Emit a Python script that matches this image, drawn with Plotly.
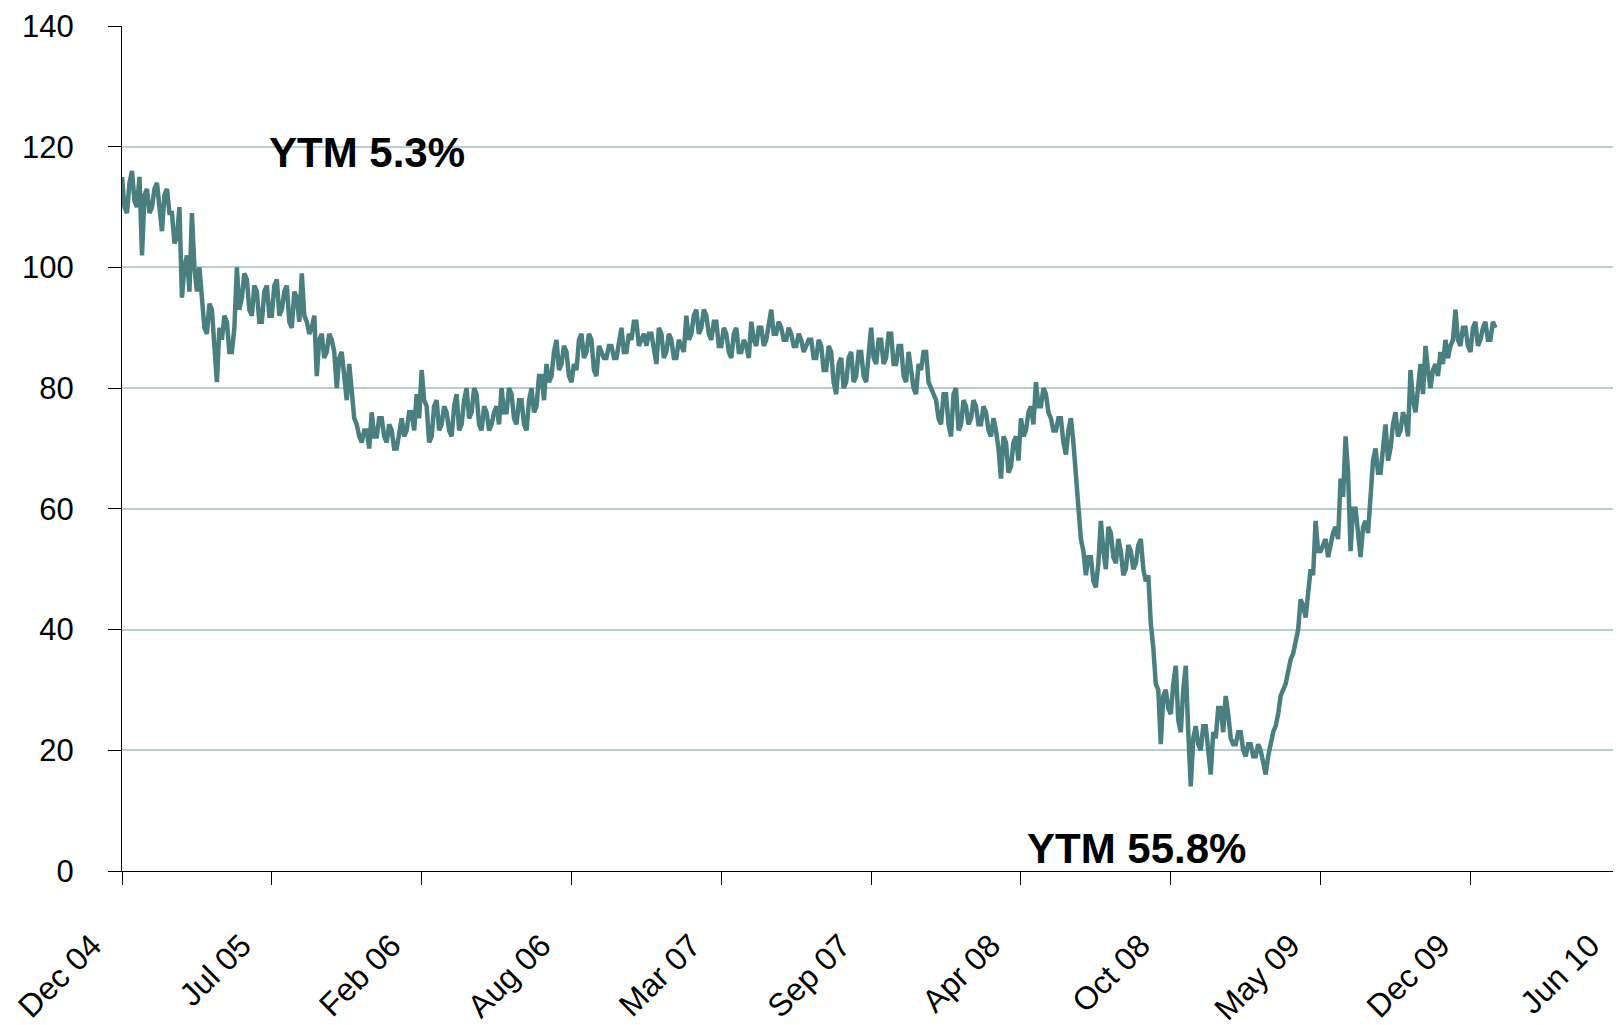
import pandas as pd
import plotly.graph_objects as go

# ---- data ----
start_date = "2004-12-31"
# price read at each ~6.7-day step
price = [
    115, 109, 116, 110, 102, 113, 110, 114, 106, 113,
    109, 105, 95, 102, 109, 96, 95, 89, 93, 81,
    88, 91, 86, 100, 95, 98, 92, 96, 91, 97,
    92, 98, 93, 97, 90, 95, 99, 91, 90, 82,
    89, 86, 88, 80, 86, 78, 79, 74, 71, 73,
    76, 72, 75, 71, 73, 70, 75, 73, 76, 79,
    83, 77, 72, 78, 74, 76, 72, 79, 74, 80,
    76, 79, 73, 76, 74, 77, 80, 76, 79, 74,
    78, 73, 80, 77, 82, 84, 82, 88, 84, 86,
    81, 83, 89, 86, 88, 82, 86, 85, 87, 85,
    90, 86, 88, 91, 88, 87, 89, 84, 89, 86,
    88, 85, 87, 92, 89, 93, 90, 92, 88, 91,
    87, 89, 85, 90, 86, 87, 91, 87, 90, 88,
    93, 89, 90, 88, 89, 87, 88, 87, 88, 85,
    87, 83, 86, 79, 85, 81, 86, 82, 86, 81,
    90, 84, 88, 85, 89, 84, 87, 81, 83, 79,
    83, 86, 80, 78, 74, 79, 72, 80, 74, 77,
    75, 77, 74, 76, 72, 73, 65, 71, 67, 72,
    75, 73, 77, 81, 77, 79, 75, 73, 75, 69,
    75, 66, 55, 49, 52, 47, 58, 50, 56, 51,
    53, 50, 53, 51, 55, 48, 41, 31, 21, 30,
    26, 34, 23, 34, 14, 24, 20, 24, 16, 22,
    27, 29, 22, 21, 23, 19, 21, 19, 20, 16,
    21, 24, 29, 31, 35, 38, 45, 42, 50, 58,
    53, 55, 54, 57, 65, 72, 53, 60, 52, 58,
    62, 70, 66, 74, 70, 76, 73, 75, 83, 76,
    84, 87, 80, 84, 86, 88, 87, 93, 87, 90,
    86, 91, 88, 91, 88, 90,
]
# price read half-way between the steps above
price_mid = [
    110, 114, 111, 115, 112, 109, 113, 110, 112, 109,
    104, 110, 100, 96, 100, 100, 90, 94, 88, 90,
    92, 86, 90, 93, 99, 93, 97, 91, 96, 92,
    97, 92, 96, 91, 96, 91, 92, 89, 92, 88,
    85, 89, 86, 85, 82, 84, 75, 72, 73, 70,
    72, 75, 72, 74, 70, 73, 72, 76, 73, 75,
    78, 71, 77, 73, 77, 73, 77, 73, 78, 75,
    80, 74, 77, 73, 76, 74, 76, 80, 75, 78,
    74, 78, 76, 82, 78, 81, 86, 83, 87, 82,
    84, 88, 85, 89, 83, 87, 85, 87, 85, 88,
    86, 89, 91, 87, 89, 89, 86, 90, 85, 89,
    85, 88, 86, 88, 92, 89, 93, 89, 91, 87,
    90, 86, 89, 86, 88, 85, 88, 90, 87, 91,
    89, 91, 88, 90, 87, 89, 86, 88, 85, 88,
    83, 87, 81, 84, 80, 85, 81, 86, 82, 85,
    85, 88, 84, 89, 84, 87, 82, 86, 80, 84,
    86, 81, 79, 75, 79, 74, 79, 73, 78, 74,
    78, 74, 77, 73, 75, 70, 72, 66, 71, 68,
    72, 76, 74, 77, 80, 76, 73, 75, 71, 73,
    71, 62, 53, 52, 48, 51, 53, 57, 52, 55,
    49, 54, 50, 54, 50, 49, 37, 30, 29, 27,
    31, 25, 30, 23, 22, 21, 24, 20, 23, 27,
    23, 26, 21, 23, 20, 21, 19, 21, 18, 19,
    23, 26, 30, 33, 36, 40, 44, 46, 49, 53,
    54, 52, 56, 55, 62, 66, 60, 55, 57, 56,
    68, 66, 70, 68, 74, 72, 76, 72, 78, 80,
    79, 83, 83, 82, 84, 85, 88, 88, 90, 87,
    90, 87, 90, 88, 91, 88,
]
tick_labels = ["Dec 04", "Jul 05", "Feb 06", "Aug 06", "Mar 07", "Sep 07",
               "Apr 08", "Oct 08", "May 09", "Dec 09", "Jun 10"]
y_ticks = [0, 20, 40, 60, 80, 100, 120, 140]
grid_values = [20, 40, 60, 80, 100, 120]
notes = [("YTM 5.3%", "2005-07-12", 119.1), ("YTM 55.8%", "2008-04-20", 3.8)]

series = []
for a, b in zip(price, price_mid):
    series += [a, b]
series = series[:-1]
dates = pd.date_range(start_date, periods=len(series), freq="80h")
tick_dates = pd.date_range(start_date, periods=len(tick_labels), freq="200D")

FONT = "Arial, Liberation Sans, sans-serif"

fig = go.Figure()
fig.add_trace(go.Scatter(
    x=dates, y=series, mode="lines",
    line=dict(color="#4a7f7f", width=4.5),
    showlegend=False, hoverinfo="skip",
))

for text, xd, yv in notes:
    fig.add_annotation(x=xd, y=yv, xref="x", yref="y", text=f"<b>{text}</b>",
                       showarrow=False, xanchor="left", yanchor="middle",
                       font=dict(family=FONT, size=42, color="black"))

# page body has an 8px default margin, so the figure is 8px smaller
fig.update_layout(
    width=1613, height=1017,
    margin=dict(l=114, r=0, t=18, b=154, autoexpand=False),
    paper_bgcolor="white", plot_bgcolor="white",
    font=dict(family=FONT, size=31, color="black"),
    xaxis=dict(
        type="date", automargin=False,
        range=[start_date, "2010-06-24"],
        tickvals=list(tick_dates), ticktext=tick_labels,
        tickangle=-45, ticks="outside", ticklen=13, tickcolor="black",
        showline=True, linecolor="black", linewidth=1,
        showgrid=False, zeroline=False,
        tickfont=dict(family=FONT, size=32, color="black"),
        ticklabelstandoff=29, ticklabelshift=-30,
    ),
    yaxis=dict(
        automargin=False,
        range=[0, 140], tickvals=y_ticks,
        ticks="outside", ticklen=13, tickcolor="black",
        showline=True, linecolor="black", linewidth=1,
        showgrid=False, zeroline=False,
        tickfont=dict(family=FONT, size=31, color="black"),
        ticklabelstandoff=28,
    ),
    yaxis2=dict(
        overlaying="y", matches="y", range=[0, 140], tickvals=grid_values,
        showticklabels=False, ticks="", showline=False, automargin=False,
        showgrid=True, gridcolor="#b7cfcf", gridwidth=2, zeroline=False,
    ),
)
# invisible trace to activate the grid axis
fig.add_trace(go.Scatter(x=[dates[0]], y=[series[0]], yaxis="y2", mode="lines",
                         line=dict(width=0), showlegend=False, hoverinfo="skip"))

fig.write_html("out.html")
